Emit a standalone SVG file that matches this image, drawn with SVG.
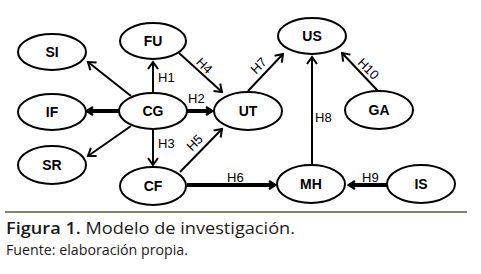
<svg xmlns="http://www.w3.org/2000/svg" width="481" height="274" viewBox="0 0 481 274">
<style>
.node ellipse{fill:#fff;stroke:#000;stroke-width:2}
.node text{font-family:"Liberation Sans",Arial,sans-serif;font-weight:bold;font-size:14px;text-anchor:middle;fill:#000}
.thin{stroke:#000;stroke-width:2;fill:none;marker-end:url(#ah)}
.thick{stroke:#000;stroke-width:4;fill:none;marker-end:url(#ahb)}
.lbl{font-family:"Liberation Sans",Arial,sans-serif;font-size:13px;fill:#000}
.cap{font-family:"Open Sans","Noto Sans",sans-serif;fill:#1a1a1a}
</style>
<defs>
<marker id="ah" markerUnits="userSpaceOnUse" viewBox="-10 -7 12 14" markerWidth="12" markerHeight="14" refX="0" refY="0" orient="auto">
<path d="M-7,-5 L0,0 L-7,5" fill="none" stroke="#000" stroke-width="2"/>
</marker>
<marker id="ahb" markerUnits="userSpaceOnUse" viewBox="-10 -7 12 14" markerWidth="12" markerHeight="14" refX="0" refY="0" orient="auto">
<path d="M-6,-4 L0,0 L-6,4" fill="none" stroke="#000" stroke-width="2.5"/>
</marker>
</defs>
<rect width="481" height="274" fill="#fff"/>
<g id="connectors">
<line class="thin" x1="131" y1="96" x2="88" y2="62"/>
<line class="thick" x1="119" y1="111" x2="87" y2="111"/>
<line class="thin" x1="131" y1="126" x2="88" y2="156"/>
<line class="thin" x1="153" y1="93" x2="153" y2="62"/>
<line class="thick" x1="187" y1="111" x2="212" y2="111"/>
<line class="thin" x1="153" y1="129" x2="153" y2="165"/>
<line class="thin" x1="179" y1="53" x2="222" y2="92"/>
<line class="thin" x1="180" y1="172" x2="222" y2="129"/>
<line class="thick" x1="187" y1="185" x2="275" y2="185"/>
<line class="thin" x1="248" y1="91" x2="283" y2="54"/>
<line class="thin" x1="312" y1="165" x2="312" y2="57"/>
<line class="thick" x1="387" y1="185" x2="349" y2="185"/>
<line class="thin" x1="378" y1="91" x2="342" y2="53"/>
<text class="lbl" x="158" y="82">H1</text>
<text class="lbl" x="188" y="103">H2</text>
<text class="lbl" x="158" y="148">H3</text>
<text class="lbl" x="204" y="70" text-anchor="middle" transform="rotate(45 204 66)">H4</text>
<text class="lbl" x="195" y="147" text-anchor="middle" transform="rotate(-45 195 143)">H5</text>
<text class="lbl" x="227" y="182">H6</text>
<text class="lbl" x="259" y="70" text-anchor="middle" transform="rotate(-45 259 66)">H7</text>
<text class="lbl" x="315" y="122">H8</text>
<text class="lbl" x="362" y="182">H9</text>
<text class="lbl" x="368" y="73" text-anchor="middle" transform="rotate(45 368 69)">H10</text>
</g>
<g id="SI" class="node"><ellipse cx="52" cy="52" rx="34" ry="18"/><text x="52" y="57">SI</text></g>
<g id="FU" class="node"><ellipse cx="153" cy="41" rx="33" ry="18"/><text x="153" y="46">FU</text></g>
<g id="IF" class="node"><ellipse cx="52" cy="112" rx="34" ry="18"/><text x="52" y="117">IF</text></g>
<g id="CG" class="node"><ellipse cx="153" cy="111" rx="34" ry="18"/><text x="153" y="116">CG</text></g>
<g id="SR" class="node"><ellipse cx="52" cy="165" rx="34" ry="19"/><text x="52" y="170">SR</text></g>
<g id="CF" class="node"><ellipse cx="153" cy="186" rx="33" ry="19"/><text x="153" y="191">CF</text></g>
<g id="UT" class="node"><ellipse cx="248" cy="111" rx="34" ry="19"/><text x="248" y="116">UT</text></g>
<g id="US" class="node"><ellipse cx="312" cy="36" rx="34" ry="18"/><text x="312" y="41">US</text></g>
<g id="GA" class="node"><ellipse cx="379" cy="110" rx="34" ry="19"/><text x="379" y="115">GA</text></g>
<g id="MH" class="node"><ellipse cx="311" cy="184" rx="34" ry="19"/><text x="311" y="189">MH</text></g>
<g id="IS" class="node"><ellipse cx="421" cy="184" rx="34" ry="19"/><text x="421" y="189">IS</text></g>
<line x1="5" y1="212" x2="467" y2="212" stroke="#5a5a3c" stroke-width="1.5"/>
<text class="cap" x="6" y="234" font-size="17" textLength="289" lengthAdjust="spacingAndGlyphs"><tspan font-weight="600">Figura 1.</tspan> Modelo de investigación.</text>
<text class="cap" x="6" y="255" font-size="14" textLength="182" lengthAdjust="spacingAndGlyphs">Fuente: elaboración propia.</text>
</svg>
